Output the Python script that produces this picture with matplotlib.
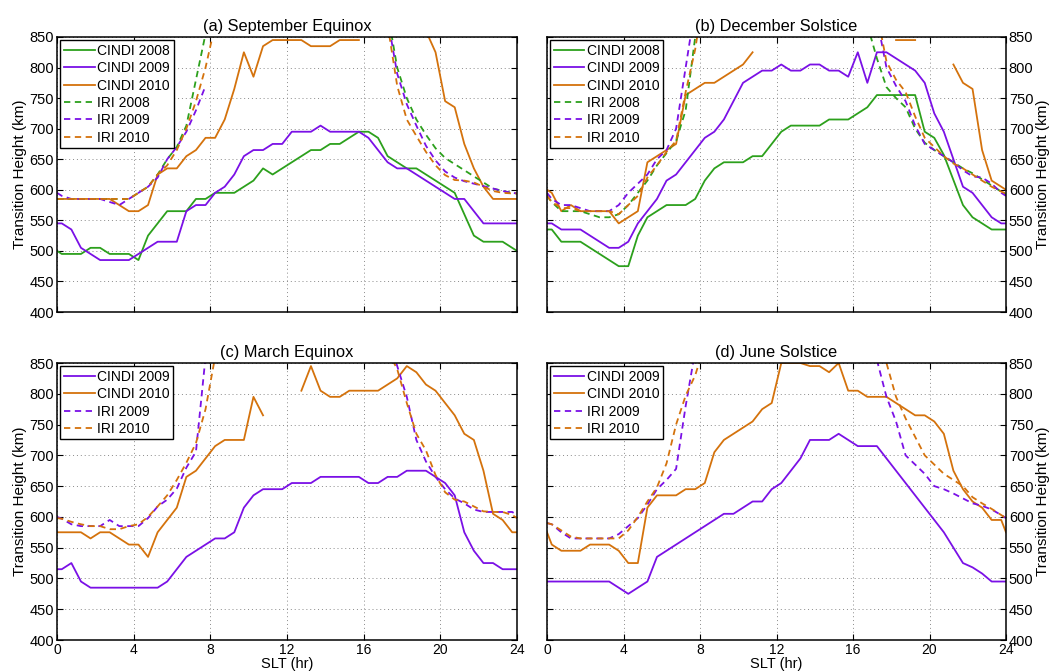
import numpy as np
import matplotlib
matplotlib.use('Agg')
from matplotlib import pyplot as plt

nan = np.nan

# SLT bins: day edges plus half-hour bin centres
slt = np.concatenate([[0], np.arange(0.25, 24, 0.5), [24]])

# (a) September Equinox
cindi08_a = [500, 495, 495, 495, 505, 505, 495, 495, 495, 485,
             525, 545, 565, 565, 565, 585, 585, 595, 595, 595,
             605, 615, 635, 625, 635, 645, 655, 665, 665, 675,
             675, 685, 695, 695, 685, 655, 645, 635, 635, 625,
             615, 605, 595, 560, 525, 515, 515, 515, 505, 500]
cindi09_a = [545, 545, 535, 505, 495, 485, 485, 485, 485, 495,
             505, 515, 515, 515, 565, 575, 575, 595, 605, 625,
             655, 665, 665, 675, 675, 695, 695, 695, 705, 695,
             695, 695, 695, 685, 665, 645, 635, 635, 625, 615,
             605, 595, 585, 585, 565, 545, 545, 545, 545, 545]
cindi10_a = [585, 585, 585, 585, 585, 585, 585, 575, 565, 565,
             575, 625, 635, 635, 655, 665, 685, 685, 715, 765,
             825, 785, 835, 845, 845, 845, 845, 835, 835, 835,
             845, 845, 845, nan, nan, nan, nan, nan, nan, 860,
             825, 745, 735, 675, 635, 605, 585, 585, 585, 585]
iri08_a = [585, 585, 585, 585, 585, 585, 585, 585, 585, 595,
           605, 625, 650, 670, 705, 780, 855, nan, nan, nan,
           nan, nan, nan, nan, nan, nan, nan, nan, nan, nan,
           nan, nan, nan, nan, nan, 890, 800, 750, 715, 690,
           668, 652, 642, 632, 622, 612, 602, 598, 595, 594]
iri09_a = [595, 590, 585, 585, 585, 585, 580, 575, 585, 595,
           605, 620, 650, 670, 695, 730, 770, nan, nan, nan,
           nan, nan, nan, nan, nan, nan, nan, nan, nan, nan,
           nan, nan, nan, nan, nan, 880, 790, 740, 705, 672,
           648, 630, 620, 614, 610, 606, 602, 598, 595, 594]
iri10_a = [585, 585, 585, 585, 585, 585, 585, 585, 585, 595,
           605, 625, 640, 665, 700, 745, 800, 870, nan, nan,
           nan, nan, nan, nan, nan, nan, nan, nan, nan, nan,
           nan, nan, nan, nan, nan, 870, 770, 715, 688, 662,
           640, 624, 616, 615, 612, 605, 598, 595, 594, 594]

# (b) December Solstice
cindi08_b = [535, 535, 515, 515, 515, 505, 495, 485, 475, 475,
             525, 555, 565, 575, 575, 575, 585, 615, 635, 645,
             645, 645, 655, 655, 675, 695, 705, 705, 705, 705,
             715, 715, 715, 725, 735, 755, 755, 755, 755, 755,
             695, 685, 657, 616, 575, 555, 545, 535, 535, 535]
cindi09_b = [545, 545, 535, 535, 535, 525, 515, 505, 505, 515,
             545, 565, 585, 615, 625, 645, 665, 685, 695, 715,
             745, 775, 785, 795, 795, 805, 795, 795, 805, 805,
             795, 795, 785, 825, 775, 825, 825, 815, 805, 795,
             775, 725, 695, 650, 605, 595, 575, 555, 545, 545]
cindi10_b = [600, 595, 565, 575, 565, 565, 565, 565, 545, 555,
             565, 645, 655, 665, 675, 755, 765, 775, 775, 785,
             795, 805, 825, nan, nan, nan, nan, nan, nan, nan,
             nan, nan, nan, nan, nan, nan, nan, 845, 845, 845,
             nan, nan, nan, 805, 775, 765, 665, 615, 605, 600]
iri08_b = [590, 580, 565, 565, 565, 560, 555, 555, 560, 575,
           595, 615, 640, 660, 680, 730, 850, 950, nan, nan,
           nan, nan, nan, nan, nan, nan, nan, nan, nan, nan,
           nan, nan, nan, nan, 870, 815, 768, 750, 735, 700,
           677, 665, 655, 645, 635, 627, 617, 607, 597, 592]
iri09_b = [595, 585, 575, 575, 570, 565, 565, 565, 575, 595,
           610, 625, 650, 665, 700, 800, 900, nan, nan, nan,
           nan, nan, nan, nan, nan, nan, nan, nan, nan, nan,
           nan, nan, nan, nan, nan, 880, 800, 770, 745, 705,
           675, 665, 655, 645, 632, 622, 620, 610, 595, 590]
iri10_b = [590, 580, 570, 570, 565, 565, 565, 565, 560, 575,
           590, 620, 640, 662, 680, 760, 830, 930, nan, nan,
           nan, nan, nan, nan, nan, nan, nan, nan, nan, nan,
           nan, nan, nan, nan, nan, 890, 810, 780, 760, 720,
           685, 670, 655, 643, 635, 625, 615, 605, 597, 594]

# (c) March Equinox
cindi09_c = [515, 515, 525, 495, 485, 485, 485, 485, 485, 485,
             485, 485, 495, 515, 535, 545, 555, 565, 565, 575,
             615, 635, 645, 645, 645, 655, 655, 655, 665, 665,
             665, 665, 665, 655, 655, 665, 665, 675, 675, 675,
             665, 655, 635, 575, 545, 525, 525, 515, 515, 515]
cindi10_c = [575, 575, 575, 575, 565, 575, 575, 565, 555, 555,
             535, 575, 595, 615, 665, 675, 695, 715, 725, 725,
             725, 795, 765, nan, nan, nan, 805, 845, 805, 795,
             795, 805, 805, 805, 805, 815, 825, 845, 835, 815,
             805, 785, 765, 735, 725, 675, 605, 595, 575, 575]
iri09_c = [600, 597, 588, 585, 585, 585, 595, 585, 585, 585,
           598, 617, 628, 646, 680, 706, 860, nan, nan, nan,
           nan, nan, nan, nan, nan, nan, nan, nan, nan, nan,
           nan, nan, nan, nan, nan, 900, 845, 795, 725, 690,
           665, 645, 630, 622, 612, 608, 608, 608, 608, 603]
iri10_c = [598, 597, 592, 588, 585, 585, 580, 580, 585, 588,
           600, 617, 635, 660, 688, 720, 775, 860, nan, nan,
           nan, nan, nan, nan, nan, nan, nan, nan, nan, nan,
           nan, nan, nan, nan, nan, 870, 840, 785, 735, 708,
           668, 640, 628, 625, 617, 609, 608, 608, 603, 598]

# (d) June Solstice
cindi09_d = [495, 495, 495, 495, 495, 495, 495, 495, 485, 475,
             485, 495, 535, 545, 555, 565, 575, 585, 595, 605,
             605, 615, 625, 625, 645, 655, 675, 695, 725, 725,
             725, 735, 725, 715, 715, 715, 695, 675, 655, 635,
             615, 595, 575, 550, 525, 518, 508, 495, 495, 495]
cindi10_d = [575, 555, 545, 545, 545, 555, 555, 555, 545, 525,
             525, 615, 635, 635, 635, 645, 645, 655, 705, 725,
             735, 745, 755, 775, 785, 850, 850, 850, 845, 845,
             835, 850, 805, 805, 795, 795, 795, 785, 775, 765,
             765, 755, 735, 675, 645, 625, 615, 595, 595, 575]
iri09_d = [590, 588, 575, 565, 565, 565, 565, 565, 572, 585,
           598, 620, 645, 660, 678, 780, 870, nan, nan, nan,
           nan, nan, nan, nan, nan, nan, nan, nan, nan, nan,
           nan, nan, nan, nan, nan, 855, 795, 755, 700, 685,
           670, 650, 645, 638, 630, 622, 618, 612, 603, 598]
iri10_d = [590, 588, 578, 568, 565, 565, 565, 565, 565, 578,
           600, 625, 648, 687, 750, 797, 830, 880, nan, nan,
           nan, nan, nan, nan, nan, nan, nan, nan, nan, nan,
           nan, nan, nan, nan, nan, 900, 850, 795, 760, 730,
           700, 685, 670, 660, 650, 632, 622, 613, 603, 598]

c08 = '#2ca01c'
c09 = '#7a10e6'
c10 = '#d4720c'

plt.rcParams['font.family'] = ['Liberation Sans', 'DejaVu Sans']
plt.rcParams['font.size'] = 10

fig = plt.figure(figsize=(10.55, 6.72), dpi=100)
W, H = 1055.0, 672.0
boxes = [(57, 517, 37, 312), (547, 1006, 37, 312),
         (57, 517, 363, 640), (547, 1006, 363, 640)]
axs = [fig.add_axes([x0 / W, 1 - y1 / H, (x1 - x0) / W, (y1 - y0) / H])
       for x0, x1, y0, y1 in boxes]

panels = [
    ('(a) September Equinox', [cindi08_a, cindi09_a, cindi10_a], [iri08_a, iri09_a, iri10_a], True),
    ('(b) December Solstice', [cindi08_b, cindi09_b, cindi10_b], [iri08_b, iri09_b, iri10_b], True),
    ('(c) March Equinox', [cindi09_c, cindi10_c], [iri09_c, iri10_c], False),
    ('(d) June Solstice', [cindi09_d, cindi10_d], [iri09_d, iri10_d], False),
]

for i, (ax, (title, cindi, iri, has08)) in enumerate(zip(axs, panels)):
    if has08:
        cols = [c08, c09, c10]
        yrs = ['2008', '2009', '2010']
    else:
        cols = [c09, c10]
        yrs = ['2009', '2010']
    for y, c, yr in zip(cindi, cols, yrs):
        ax.plot(slt, y, '-', color=c, lw=1.3, label='CINDI ' + yr)
    for y, c, yr in zip(iri, cols, yrs):
        ax.plot(slt, y, '--', color=c, lw=1.3, dashes=(3.5, 2.5), label='IRI ' + yr)

    ax.set_xlim(0, 24)
    ax.set_ylim(400, 850)
    ax.set_xticks(np.arange(0, 25, 4))
    ax.set_yticks(np.arange(400, 851, 50))
    ax.grid(True, ls=(0, (1, 3)), color='#8a8a8a', lw=0.7)
    ax.tick_params(direction='in', length=4, top=True, right=True, labelsize=10.5,
                   width=0.8, pad=2)
    ax.tick_params(axis='x', labelsize=10, pad=2)
    for s in ax.spines.values():
        s.set_linewidth(1.1)
    ax.set_title(title, fontsize=11.8, pad=4)

    if i % 2 == 1:
        ax.yaxis.tick_right()
        ax.yaxis.set_label_position('right')
        ax.tick_params(left=True, right=True, direction='in')
    ax.set_ylabel('Transition Height (km)', fontsize=11, labelpad=2)
    if i < 2:
        ax.tick_params(labelbottom=False)
    else:
        ax.set_xlabel('SLT (hr)', fontsize=10.5, labelpad=0)

    leg = ax.legend(loc='upper left', fontsize=10, handlelength=2.2, labelspacing=0.24,
                    borderpad=0.25, handletextpad=0.2, borderaxespad=0.25,
                    fancybox=False, framealpha=1)
    leg.get_frame().set_edgecolor('black')
    leg.get_frame().set_linewidth(1.0)

fig.savefig('out.png', dpi=100)
